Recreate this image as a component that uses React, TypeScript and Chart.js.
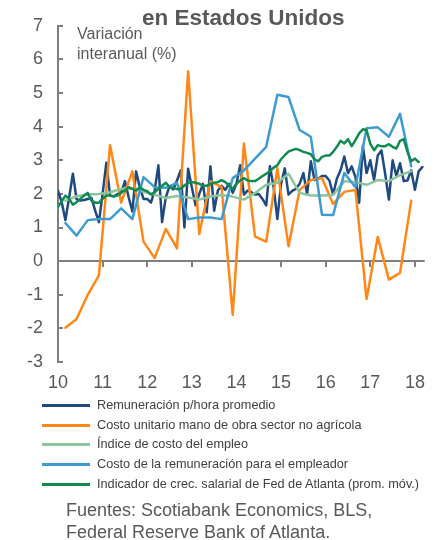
import React, { useEffect, useRef } from "react";
import { Chart, registerables } from "chart.js";

Chart.register(...registerables);

// ---- Data ----
const yearTicks = [10, 11, 12, 13, 14, 15, 16, 17, 18];
const valueTicks = [-3, -2, -1, 0, 1, 2, 3, 4, 5, 6, 7];

// Monthly, Jan 2010 onwards
const remuneracionHora = [
  2.1, 1.75, 1.22, 1.9, 2.6, 1.84, 1.8, 1.82, 1.85, 1.88, 1.5, 1.16,
  2.0, 2.93, 1.95, 1.92, 2.0, 2.02, 2.38, 1.9, 1.48, 2.67, 2.2, 1.85,
  1.85, 1.74, 2.1, 2.85, 1.16, 1.9, 2.23, 2.13, 2.4, 2.7, 1.0, 2.75,
  2.2, 1.66, 2.0, 2.3, 1.45, 2.82, 1.5, 2.1, 2.24, 2.12, 2.3, 2.03,
  2.3, 2.85, 1.98, 2.1, 2.05, 1.98, 2.0, 1.85, 1.66, 2.82, 2.2, 1.25,
  2.3, 2.76, 1.98, 2.09, 2.15, 2.3, 2.62, 1.98, 2.97, 2.41, 2.45, 2.53,
  2.53, 2.4, 1.98, 2.45, 2.7, 3.11, 2.62, 2.82, 2.5, 1.74, 3.43, 2.62,
  3.0, 2.41, 3.14, 3.29, 2.6, 1.83, 3.0, 2.53, 2.91, 2.38, 2.4, 2.7,
  2.12, 2.67, 2.8,
];

// Monthly, Jan 2010 onwards (moving average)
const atlantaFed = [
  1.62, 1.78, 1.95, 1.85, 1.68, 1.75, 1.85, 1.95, 2.03, 1.8, 1.74, 1.74,
  1.85, 1.95, 1.95, 1.93, 1.95, 2.05, 2.1, 2.2, 2.15, 2.1, 2.2, 2.12,
  2.08, 1.98, 2.05, 2.15, 2.24, 2.33, 2.2, 2.18, 2.14, 2.15, 2.25, 2.33,
  2.35, 2.33, 2.3, 2.25, 2.24, 2.3, 2.33, 2.35, 2.41, 2.35, 2.25, 2.15,
  2.3, 2.4, 2.47, 2.4, 2.38, 2.38, 2.45, 2.53, 2.6, 2.67, 2.78, 2.85,
  3.03, 3.15, 3.26, 3.3, 3.34, 3.3, 3.25, 3.22, 3.18, 3.03, 2.97, 3.1,
  3.14, 3.14, 3.25, 3.4, 3.58, 3.5, 3.63, 3.42, 3.6, 3.8, 3.92, 3.9,
  3.49, 3.3, 3.45, 3.42, 3.42, 3.48, 3.4, 3.35, 3.58, 3.63, 3.25, 2.97,
  3.05, 2.95,
];

// Quarterly, Q1 2010 .. Q4 2017
const costoUnitario = [
  -1.98, -1.72, -1.0, -0.42, 3.45, 1.74, 2.67, 0.58,
  0.09, 0.96, 0.38, 5.65, 0.81, 2.38, 2.2, -1.6,
  3.5, 0.73, 0.58, 2.76, 0.44, 2.12, 2.41, 2.47,
  1.7, 2.06, 2.12, -1.13, 0.72, -0.55, -0.35, 1.8,
];

const indiceCostoEmpleo = [
  1.8, 1.93, 1.98, 2.0, 2.05, 2.15, 2.15, 2.06,
  1.98, 1.88, 1.94, 1.89, 1.83, 1.92, 1.97, 1.92,
  1.83, 2.03, 2.27, 2.33, 2.6, 2.03, 1.95, 1.95,
  1.97, 2.38, 2.35, 2.27, 2.41, 2.38, 2.56, 2.67,
];

const costoRemuneracion = [
  1.13, 0.76, 1.22, 1.25, 1.25, 1.57, 1.25, 2.5,
  2.2, 2.18, 2.33, 1.25, 1.3, 1.3, 1.25, 2.47,
  2.7, 3.05, 3.4, 4.95, 4.88, 3.9, 3.7, 1.38,
  1.37, 2.62, 2.2, 3.95, 3.98, 3.7, 4.38, 2.82,
];

const seriesLabels = [
  "Remuneración p/hora promedio",
  "Costo unitario mano de obra sector no agrícola",
  "Índice de costo del empleo",
  "Costo de la remuneración para el empleador",
  "Indicador de crec. salarial de Fed de Atlanta (prom. móv.)",
];
const seriesColors = ["#1F4A80", "#FF8717", "#8CC49E", "#3E9BD2", "#118A50"];

const AXIS = "#7F7F7F";
const TEXT = "#595959";
const FONT = '"Liberation Sans", Arial, sans-serif';

const monthToYear = (i: number) => 10 + i / 12;
const quarterToYear = (i: number) => 10 + (3 * i + 2) / 12;

const axisMarks = {
  id: "axisMarks",
  beforeDatasetsDraw(chart: any) {
    const { ctx, chartArea, scales } = chart;
    const x = scales.x;
    const y = scales.y;
    ctx.save();
    ctx.strokeStyle = AXIS;
    ctx.lineWidth = 2;
    for (const t of valueTicks) {
      const py = Math.round(y.getPixelForValue(t));
      ctx.beginPath();
      ctx.moveTo(chartArea.left, py);
      ctx.lineTo(chartArea.left + 5, py);
      ctx.stroke();
    }
    const y0 = Math.round(y.getPixelForValue(0));
    for (const t of yearTicks) {
      if (t === yearTicks[0]) continue;
      const px = Math.round(x.getPixelForValue(t));
      ctx.beginPath();
      ctx.moveTo(px, y0);
      ctx.lineTo(px, y0 + 6);
      ctx.stroke();
    }
    ctx.restore();
  },
};

function ChartCanvas() {
  const ref = useRef<HTMLCanvasElement | null>(null);
  useEffect(() => {
    if (!ref.current) return;
    const mk = (label: string, color: string, data: { x: number; y: number }[], order: number) => ({
      label,
      data,
      borderColor: color,
      backgroundColor: color,
      borderWidth: 2.5,
      pointRadius: 0,
      tension: 0,
      fill: false,
      borderJoinStyle: "round" as const,
      borderCapStyle: "round" as const,
      order,
    });
    const chart = new Chart(ref.current, {
      type: "line",
      data: {
        datasets: [
          mk(seriesLabels[0], seriesColors[0], remuneracionHora.map((v, i) => ({ x: monthToYear(i), y: v })), 4),
          mk(seriesLabels[1], seriesColors[1], costoUnitario.map((v, i) => ({ x: quarterToYear(i), y: v })), 3),
          mk(seriesLabels[2], seriesColors[2], indiceCostoEmpleo.map((v, i) => ({ x: quarterToYear(i), y: v })), 2),
          mk(seriesLabels[3], seriesColors[3], costoRemuneracion.map((v, i) => ({ x: quarterToYear(i), y: v })), 1),
          mk(seriesLabels[4], seriesColors[4], atlantaFed.map((v, i) => ({ x: monthToYear(i), y: v })), 0),
        ],
      },
      options: {
        responsive: false,
        animation: false,
        events: [],
        layout: { padding: { top: 19, right: 3, left: 0, bottom: 0 } },
        plugins: {
          legend: { display: false },
          title: { display: false },
          tooltip: { enabled: false },
        },
        scales: {
          x: {
            type: "linear",
            min: 10,
            max: 18.22,
            afterFit: (s: any) => {
              s.height = 38;
            },
            afterBuildTicks: (s: any) => {
              s.ticks = yearTicks.map((v) => ({ value: v }));
            },
            grid: { display: false, drawTicks: false },
            border: { display: false },
            ticks: {
              color: TEXT,
              font: { family: FONT, size: 18 },
              padding: 10,
              maxRotation: 0,
              autoSkip: false,
              callback: (v: any) => String(v),
            },
          },
          y: {
            type: "linear",
            min: -3,
            max: 7,
            afterFit: (s: any) => {
              s.width = 58;
            },
            afterBuildTicks: (s: any) => {
              s.ticks = valueTicks.map((v) => ({ value: v }));
            },
            grid: {
              drawTicks: false,
              lineWidth: 2,
              color: (c: any) => (c.tick && c.tick.value === 0 ? AXIS : "rgba(0,0,0,0)"),
            },
            border: { display: true, color: AXIS, width: 2 },
            ticks: {
              color: TEXT,
              font: { family: FONT, size: 18 },
              padding: 15,
              autoSkip: false,
              callback: (v: any) => String(v),
            },
          },
        },
      },
      plugins: [axisMarks],
    });
    return () => chart.destroy();
  }, []);
  return (
    <canvas
      ref={ref}
      width={435}
      height={400}
      style={{ position: "absolute", left: 0, top: 0, width: 435, height: 400 }}
    />
  );
}

const legendTops = [404, 424, 443, 463, 483];

export default function App() {
  return (
    <div
      style={{
        position: "fixed",
        left: 0,
        top: 0,
        width: 435,
        height: 540,
        background: "#fff",
        fontFamily: FONT,
        overflow: "hidden",
      }}
    >
      <ChartCanvas />
      <div
        style={{
          position: "absolute",
          left: 142,
          top: 7,
          fontSize: 22.5,
          lineHeight: "22px",
          fontWeight: "bold",
          color: TEXT,
          whiteSpace: "nowrap",
        }}
      >
        en Estados Unidos
      </div>
      <div
        style={{
          position: "absolute",
          left: 77,
          top: 24,
          fontSize: 16,
          lineHeight: "20px",
          color: TEXT,
        }}
      >
        Variación
        <br />
        interanual (%)
      </div>
      {seriesLabels.map((lab, i) => (
        <div key={lab} style={{ position: "absolute", left: 42, top: legendTops[i] }}>
          <div style={{ position: "absolute", left: 0, top: 0, width: 48, height: 3, background: seriesColors[i] }} />
          <span
            style={{
              position: "absolute",
              left: 55,
              top: -7,
              fontSize: 12.7,
              lineHeight: "16px",
              color: "#404040",
              whiteSpace: "nowrap",
            }}
          >
            {lab}
          </span>
        </div>
      ))}
      <div
        style={{
          position: "absolute",
          left: 66,
          top: 499,
          fontSize: 18,
          lineHeight: "22px",
          color: TEXT,
          whiteSpace: "nowrap",
        }}
      >
        Fuentes: Scotiabank Economics, BLS,
        <br />
        Federal Reserve Bank of Atlanta.
      </div>
    </div>
  );
}
